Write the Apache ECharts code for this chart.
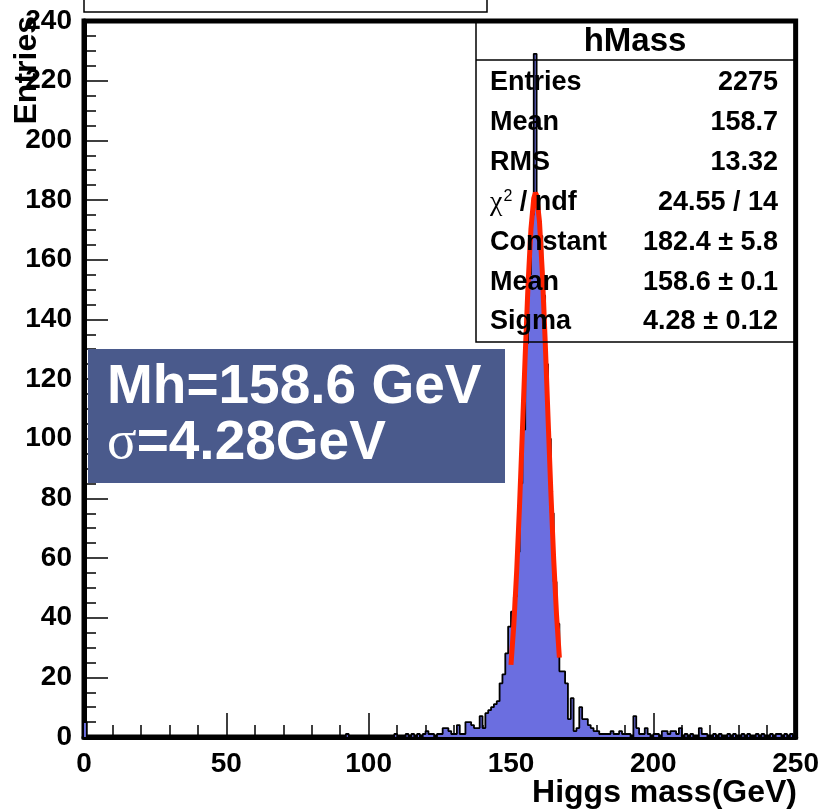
<!DOCTYPE html>
<html>
<head>
<meta charset="utf-8">
<script src="https://cdn.jsdelivr.net/npm/echarts@6/dist/echarts.min.js"></script>
<style>
  html, body { margin: 0; padding: 0; background: #fff; }
  #chart { width: 822px; height: 810px; }
</style>
</head>
<body>
<div id="chart"></div>
<script>
// hMass histogram, 1 GeV bins from 0 to 250 (only non-empty bins listed)
const binLow = [
  0, 92, 109, 113, 115, 117, 119, 120, 121, 122, 124, 125, 126, 127, 128, 129,
  130, 131, 132, 133, 134, 135, 136, 137, 138, 139, 140, 141, 142, 143, 144, 145,
  146, 147, 148, 149, 150, 151, 152, 153, 154, 155, 156, 157, 158, 159, 160, 161,
  162, 163, 164, 165, 166, 167, 168, 169, 170, 171, 172, 173, 174, 175, 176, 177,
  178, 179, 180, 181, 182, 183, 184, 185, 186, 187, 188, 189, 190, 191, 193, 194,
  195, 196, 197, 198, 200, 201, 203, 204, 205, 206, 207, 208, 209, 211, 213, 216,
  217, 218, 221, 223, 226, 228, 231, 233, 236, 238, 241, 243, 244, 246, 248
];
const binCount = [
  5, 1, 1, 1, 1, 1, 1, 2, 1, 1, 1, 1, 3, 3, 2, 1,
  1, 4, 1, 1, 5, 5, 4, 3, 3, 7, 3, 8, 9, 10, 11, 12,
  18, 21, 28, 37, 42, 47, 62, 85, 103, 132, 155, 175, 229, 180, 168, 148,
  125, 100, 75, 52, 38, 22, 22, 18, 6, 13, 2, 3, 10, 6, 6, 4,
  3, 2, 2, 1, 1, 1, 1, 2, 1, 1, 2, 1, 1, 1, 7, 3,
  1, 1, 3, 1, 1, 1, 2, 2, 1, 2, 2, 1, 3, 1, 1, 3,
  1, 1, 1, 1, 1, 1, 1, 1, 1, 1, 1, 1, 1, 1, 1
];

// gaussian fit curve as drawn (red)
const fitX = [150, 151, 152, 153, 154, 155, 156, 157, 158, 158.6, 159, 160, 161, 162, 163, 164, 165, 166, 167];
const fitY = [24.2, 37.7, 55.6, 77.5, 102.4, 128.1, 151.7, 170.1, 180.6, 182.4, 181.6, 172.9, 155.9, 133.0, 107.5, 82.3, 59.6, 40.9, 26.6];

const xTicks = [0, 50, 100, 150, 200, 250];
const yTicks = [0, 20, 40, 60, 80, 100, 120, 140, 160, 180, 200, 220, 240];

const statLabels = ["Entries", "Mean", "RMS", "{chi|χ}{sup|2}{b| / ndf}", "Constant", "Mean", "Sigma"];
const statValues = ["2275", "158.7", "13.32", "24.55 / 14", "182.4 ± 5.8", "158.6 ± 0.1", "4.28 ± 0.12"];

const nBins = 250;
const counts = new Array(nBins).fill(0);
binLow.forEach((x, i) => { counts[x] = binCount[i]; });
const histData = counts.map((c, i) => [i, c]);
histData.push([nBins, counts[nBins - 1]]);

const FONT = "Liberation Sans";
const chart = echarts.init(document.getElementById("chart"), null, { renderer: "canvas" });

const statRowY = [83, 123, 163, 203, 243, 283, 322];
const statGraphics = [];
statLabels.forEach((t, i) => {
  statGraphics.push({
    type: "text", x: 490, y: statRowY[i], z: 100,
    style: {
      text: t, align: "left", verticalAlign: "middle",
      font: "bold 27px " + FONT, fill: "#000",
      rich: {
        chi: { fontFamily: "Liberation Serif", fontSize: 28, fontWeight: "normal", fill: "#000" },
        sup: { fontFamily: FONT, fontSize: 16, fontWeight: "normal", fill: "#000", verticalAlign: "top", padding: [0, 0, 12, 1] },
        b: { fontFamily: FONT, fontSize: 27, fontWeight: "bold", fill: "#000" }
      }
    }
  });
  statGraphics.push({
    type: "text", x: 778, y: statRowY[i], z: 100,
    style: { text: statValues[i], align: "right", verticalAlign: "middle", font: "bold 27px " + FONT, fill: "#000" }
  });
});

const option = {
  backgroundColor: "#fff",
  animation: false,
  grid: {
    left: 84, right: 23, top: 21, bottom: 73,
    show: true, borderColor: "#000", borderWidth: 5, backgroundColor: "transparent"
  },
  xAxis: {
    type: "value", min: 0, max: 250, interval: 50,
    axisLine: { lineStyle: { color: "#000", width: 5 } },
    axisTick: { inside: true, length: 24, lineStyle: { color: "#000", width: 1.5 } },
    minorTick: { show: true, splitNumber: 5, length: 12, lineStyle: { color: "#000", width: 1.5 } },
    splitLine: { show: false },
    axisLabel: {
      margin: 13, color: "#000", fontFamily: FONT, fontWeight: "bold", fontSize: 28,
      formatter: v => (xTicks.includes(v) ? String(v) : "")
    }
  },
  yAxis: {
    type: "value", min: 0, max: 240, interval: 20,
    axisLine: { show: true, lineStyle: { color: "#000", width: 5 } },
    axisTick: { show: true, inside: true, length: 24, lineStyle: { color: "#000", width: 1.5 } },
    minorTick: { show: true, splitNumber: 4, length: 12, lineStyle: { color: "#000", width: 1.5 } },
    splitLine: { show: false },
    axisLabel: {
      margin: 12, color: "#000", fontFamily: FONT, fontWeight: "bold", fontSize: 28,
      formatter: v => (yTicks.includes(v) ? String(v) : "")
    }
  },
  series: [
    {
      name: "hMass", type: "line", step: "end", data: histData,
      showSymbol: false, symbol: "none", z: 2,
      lineStyle: { color: "#000", width: 1.8 },
      areaStyle: { color: "#6b6ee0", opacity: 1 }
    },
    {
      name: "gaus", type: "line", data: fitX.map((x, i) => [x, fitY[i]]),
      showSymbol: false, symbol: "none", z: 3,
      lineStyle: { color: "#ff2200", width: 5 }
    }
  ],
  graphic: [
    // title box (cut at the top)
    { type: "rect", z: 100, shape: { x: 84, y: -10, width: 403, height: 22 },
      style: { fill: "#fff", stroke: "#000", lineWidth: 1.5 } },
    // stats box
    { type: "rect", z: 99, shape: { x: 476, y: 20, width: 320, height: 322 },
      style: { fill: "transparent", stroke: "#000", lineWidth: 1.5 } },
    { type: "line", z: 99, shape: { x1: 476, y1: 60, x2: 796, y2: 60 },
      style: { stroke: "#000", lineWidth: 1.5 } },
    { type: "text", x: 635, y: 42, z: 100,
      style: { text: "hMass", align: "center", verticalAlign: "middle", font: "bold 33px " + FONT, fill: "#000" } },
    ...statGraphics,
    // annotation box
    { type: "rect", z: 100, shape: { x: 88, y: 349, width: 417, height: 134 },
      style: { fill: "#4a5a8c" } },
    { type: "text", x: 107, y: 388, z: 101,
      style: { text: "Mh=158.6 GeV", align: "left", verticalAlign: "middle", font: "bold 55px " + FONT, fill: "#fff" } },
    { type: "text", x: 107, y: 444, z: 101,
      style: {
        text: "{s|σ}{b|=4.28GeV}", align: "left", verticalAlign: "middle", fill: "#fff",
        rich: {
          s: { fontFamily: "Liberation Serif", fontSize: 55, fontWeight: "normal", fill: "#fff" },
          b: { fontFamily: FONT, fontSize: 55, fontWeight: "bold", fill: "#fff" }
        }
      } },
    // axis titles
    { type: "text", x: 797, y: 793, z: 100,
      style: { text: "Higgs mass(GeV)", align: "right", verticalAlign: "middle", font: "bold 32px " + FONT, fill: "#000" } },
    { type: "text", x: 27, y: 16, rotation: Math.PI / 2, z: 100,
      style: { text: "Entries", align: "right", verticalAlign: "middle", font: "bold 32px " + FONT, fill: "#000" } }
  ]
};

chart.setOption(option);
</script>
</body>
</html>
